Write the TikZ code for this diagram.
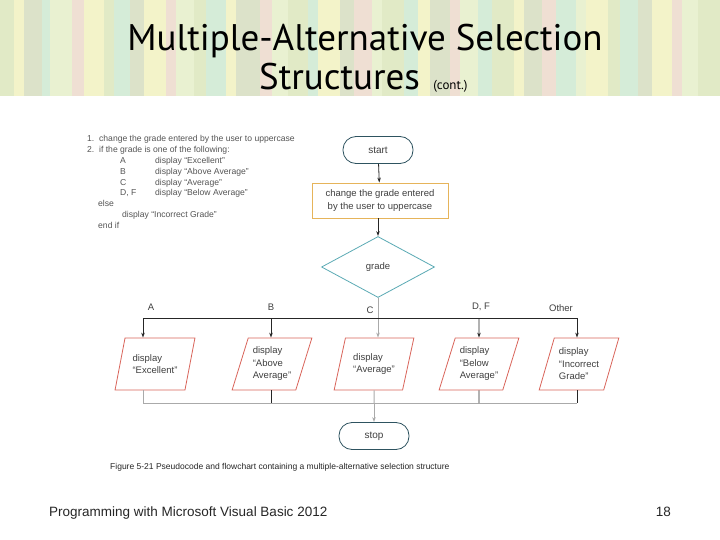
\documentclass[tikz,border=0pt]{standalone}
\usepackage{fontspec}
\setmainfont{Liberation Sans}
\newfontfamily\titlefont{PT Sans}
\usetikzlibrary{shapes.geometric,arrows.meta}
\definecolor{termc}{HTML}{2E5360}
\definecolor{procc}{HTML}{E6B45A}
\definecolor{decc}{HTML}{5BAAB5}
\definecolor{ioc}{HTML}{D9645A}
\definecolor{glc}{HTML}{AAAAAA}
\definecolor{txc}{HTML}{404040}
\definecolor{pc}{HTML}{555555}
\definecolor{bandbase}{HTML}{EDF1D6}
\definecolor{s1}{HTML}{DCE8C0}
\definecolor{s2}{HTML}{F6F4C4}
\definecolor{s3}{HTML}{CBEBD9}
\definecolor{s4}{HTML}{F1D8D2}
\definecolor{s5}{HTML}{D6DCC4}
\definecolor{s6}{HTML}{E8F2D0}
\begin{document}
\begin{tikzpicture}[x=1pt,y=-1pt,
  term/.style={draw=termc, line width=0.8pt, rounded corners=13pt, minimum width=70pt, minimum height=27pt, inner sep=0pt, text=txc, font=\fontsize{10}{12}\selectfont},
  proc/.style={draw=procc, line width=0.8pt, minimum width=136pt, minimum height=35pt, inner sep=0pt, align=center, text=txc, font=\fontsize{9.5}{13}\selectfont},
  dec/.style={draw=decc, line width=0.8pt, diamond, aspect=1.85, minimum width=113pt, minimum height=61pt, inner sep=0pt, text=txc, font=\fontsize{9.5}{12}\selectfont},
  io/.style={draw=ioc, line width=0.8pt, trapezium, trapezium left angle=69, trapezium right angle=111, trapezium stretches=true, minimum width=80pt, minimum height=52pt, inner sep=0pt, align=left, text=txc, font=\fontsize{9.5}{12.5}\selectfont},
  lab/.style={text=txc, font=\fontsize{9.5}{12}\selectfont, inner sep=0pt},
  pseudo/.style={anchor=base west, text=pc, font=\fontsize{8.6}{10}\selectfont, inner sep=0pt},
  blk/.style={draw=black!85, line width=0.8pt},
  gry/.style={draw=glc, line width=1pt},
  arr/.style={-{Stealth[length=5pt,width=3.5pt]}}
]
\useasboundingbox (0,0) rectangle (720,540);
\fill[white] (0,0) rectangle (720,540);
\fill[bandbase] (0,0) rectangle (720,96);
\foreach \xa/\w/\c in {0/14/s1,14/10/s2,24/18/s5,42/8/s3,50/22/s6,72/12/s4,84/20/s2,104/10/s1,114/16/s3,130/14/s5,144/22/s2,166/10/s4,176/18/s6,194/12/s1,206/20/s3,226/10/s2,236/24/s5,260/12/s4,272/16/s6,288/20/s1,308/10/s3,318/22/s2,340/14/s5,354/18/s4,372/10/s6,382/22/s1,404/14/s3,418/12/s2,430/20/s5,450/10/s4,460/18/s6,478/14/s3,492/22/s1,514/10/s2,524/18/s5,542/14/s4,556/20/s3,576/10/s6,586/22/s2,608/12/s1,620/18/s3,638/14/s5,652/20/s2,672/10/s4,682/16/s6,698/22/s1}
  \fill[\c, opacity=0.7] (\xa,0) rectangle ++(\w,96);
\node[anchor=base, font=\titlefont\fontsize{37}{40}\selectfont, inner sep=0pt] (t1) at (365,51) {Multiple-Alternative Selection};
\node[anchor=base west, font=\titlefont\fontsize{37}{40}\selectfont, inner sep=0pt] (t2) at (259,90) {Structures {\fontsize{13}{14}\selectfont\ (cont.)}};
% pseudocode
\node[pseudo] (p1) at (87,142) {1.\ \ change the grade entered by the user to uppercase};
\node[pseudo] (p2) at (87,153) {2.\ \ if the grade is one of the following:};
\node[pseudo] (p3a) at (120,164) {A};
\node[pseudo] (p3b) at (155,164) {display “Excellent”};
\node[pseudo] (p4a) at (120,175) {B};
\node[pseudo] (p4b) at (155,175) {display “Above Average”};
\node[pseudo] (p5a) at (120,186) {C};
\node[pseudo] (p5b) at (155,186) {display “Average”};
\node[pseudo] (p6a) at (120,196) {D, F};
\node[pseudo] (p6b) at (155,196) {display “Below Average”};
\node[pseudo] (p7) at (98,207) {else};
\node[pseudo] (p8) at (122,218) {display “Incorrect Grade”};
\node[pseudo] (p9) at (98,229) {end if};
% flowchart
\node[term] (start) at (378,150) {start};
\node[proc] (proc) at (380,200.5) {change the grade entered\\by the user to uppercase};
\node[dec] (grade) at (378,267) {grade};
\node[io] (ioA) at (155,364) {display\\“Excellent”};
\node[io] (ioB) at (272,364) {display\\“Above\\Average”};
\node[io] (ioC) at (374,364) {display\\“Average”};
\node[io] (ioD) at (479,364) {display\\“Below\\Average”};
\node[io] (ioE) at (579,364) {display\\“Incorrect\\Grade”};
\node[term] (stop) at (374,436) {stop};
\coordinate (barL) at (143,318);
\coordinate (barR) at (577,318);
\coordinate (botL) at (143,403);
\coordinate (botR) at (577,403);
\coordinate (botC) at (374,403);
\draw[blk,arr] (start) -- (proc);
\draw[blk,arr] (proc.south -| grade.north) -- (grade.north);
\draw[gry,arr] (grade.south) -- (ioC.north -| grade.south);
\draw[blk] (barL) -- (barR);
\draw[blk,arr] (barL) -- (barL |- ioA.north);
\draw[blk,arr] (271,318) -- (ioB.north -| 271,0);
\draw[blk,arr] (479,318) -- (ioD.north);
\draw[blk,arr] (barR) -- (barR |- ioE.north);
\node[lab] (lA) at (151,307) {A};
\node[lab] (lB) at (271,307) {B};
\node[lab] (lC) at (370,310) {C};
\node[lab] (lD) at (481,307) {D, F};
\node[lab] (lE) at (561,308) {Other};
% bottom merge
\draw[gry] (ioA.south -| barL) -- (botL) -- (botR);
\draw[blk] (ioB.south -| 271,0) -- (271,403);
\draw[blk] (ioD.south) -- (479,403);
\draw[blk] (ioE.south -| barR) -- (botR);
\draw[gry] (ioC.south) -- (botC);
\draw[gry,arr] (botC) -- (stop.north);
% caption and footer
\node[anchor=base west, inner sep=0pt, text=black!85, font=\fontsize{8.5}{10}\selectfont] (cap) at (110,469) {Figure 5-21 Pseudocode and flowchart containing a multiple-alternative selection structure};
\node[anchor=base west, inner sep=0pt, text=black!85, font=\fontsize{13.5}{16}\selectfont] (foot) at (49,516) {Programming with Microsoft Visual Basic 2012};
\node[anchor=base east, inner sep=0pt, text=black!85, font=\fontsize{13.5}{16}\selectfont] (num) at (671,516) {18};
\end{tikzpicture}
\end{document}
